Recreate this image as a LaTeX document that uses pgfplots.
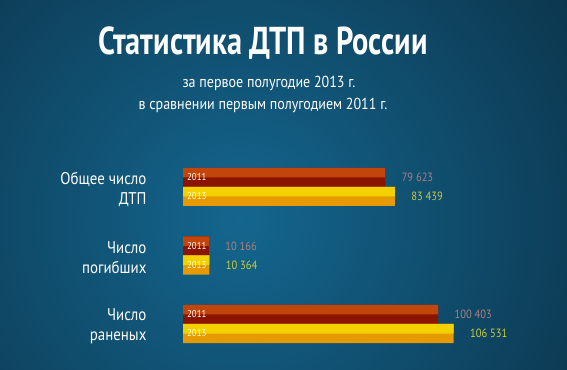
\documentclass[border=0pt]{standalone}
\usepackage{fontspec}
\setmainfont{PT Sans}[FakeStretch=0.88]
\newfontfamily\titlefont{PT Sans}[FakeStretch=0.78]
\usepackage{pgfplots}
\pgfplotsset{compat=1.18}
\definecolor{bgin}{HTML}{14668F}
\definecolor{bgout}{HTML}{0A2A3D}
\definecolor{topA}{HTML}{C2460C}
\definecolor{botA}{HTML}{8A1400}
\definecolor{topB}{HTML}{F3D100}
\definecolor{botB}{HTML}{E69A00}
\definecolor{valA}{HTML}{A88080}
\definecolor{valB}{HTML}{CACB3E}
\begin{document}
\begin{tikzpicture}
\begin{scope}
\clip (0,0) rectangle (567bp,370bp);
\shade[inner color=bgin, outer color=bgout] (240bp,150bp) circle (500bp);
\end{scope}
\node[text=white, anchor=base, font={\titlefont\bfseries\fontsize{39}{41}\selectfont}] at (263bp,315bp) {Статистика ДТП в России};
\node[text=white, anchor=base, font={\fontsize{16}{18}\selectfont}] at (269bp,282bp) {за первое полугодие 2013 г.};
\node[text=white, anchor=base, font={\fontsize{16}{18}\selectfont}] at (263bp,260bp) {в сравнении первым полугодием 2011 г.};
\begin{axis}[
  at={(183bp,11.75bp)}, anchor=south west,
  width=350bp, height=205.5bp, scale only axis,
  xbar, xmin=0, xmax=137800, ymin=0.5, ymax=3.5,
  clip=false,
  axis line style={draw=none},
  major tick length=0pt,
  xtick=\empty,
  ytick={1,2,3},
  yticklabels={{Число\\раненых},{Число\\погибших},{Общее число\\ДТП}},
  yticklabel style={align=right, text=white, font={\fontsize{17}{20}\selectfont}, xshift=-33bp, yshift=-2bp},
  point meta=explicit symbolic,
]
\addplot[fill=botA, draw=none, bar width=19bp, bar shift=9.5bp,
  nodes near coords,
  every node near coord/.append style={text=valA, anchor=west, xshift=13bp, font={\fontsize{12}{13}\selectfont}}]
  coordinates {(100403,1) [100 403] (10166,2) [10 166] (79623,3) [79 623]};
\addplot[fill=topA, draw=none, bar width=9.5bp, bar shift=14.25bp]
  coordinates {(100403,1) (10166,2) (79623,3)};
\addplot[fill=botB, draw=none, bar width=19bp, bar shift=-9.5bp,
  nodes near coords,
  every node near coord/.append style={text=valB, anchor=west, xshift=13bp, font={\fontsize{12}{13}\selectfont}}]
  coordinates {(106531,1) [106 531] (10364,2) [10 364] (83439,3) [83 439]};
\addplot[fill=topB, draw=none, bar width=9.5bp, bar shift=-4.75bp]
  coordinates {(106531,1) (10364,2) (83439,3)};
\pgfplotsinvokeforeach{1,2,3}{
  \node[anchor=west, text=white, inner sep=0pt, xshift=4bp, yshift=9.5bp, font={\fontsize{10}{11}\selectfont}] at (axis cs:0,#1) {2011};
  \node[anchor=west, text=white!80!yellow, inner sep=0pt, xshift=4bp, yshift=-9.5bp, font={\fontsize{10}{11}\selectfont}] at (axis cs:0,#1) {2013};
}
\end{axis}
\pgfresetboundingbox
\path (0,0) rectangle (567bp,370bp);
\end{tikzpicture}
\end{document}
